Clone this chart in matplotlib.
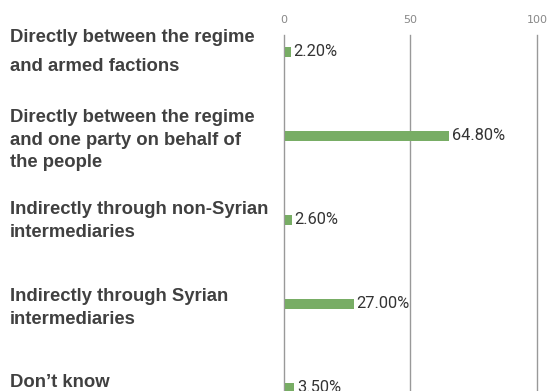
import matplotlib.pyplot as plt
from matplotlib.transforms import blended_transform_factory

categories = [
    "Directly between the regime\nand armed factions",
    "Directly between the regime\nand one party on behalf of\nthe people",
    "Indirectly through non-Syrian\nintermediaries",
    "Indirectly through Syrian\nintermediaries",
    "Don\u2019t know",
]
values = [2.2, 64.8, 2.6, 27.0, 3.5]
ticks = [0, 50, 100]

fig = plt.figure(figsize=(5.51, 3.91), dpi=100)
ax = fig.add_axes([0.5154, 0.0, 0.4592, 0.9105])

pos = list(range(len(values)))
ax.barh(pos, values, height=0.12, left=0.5, color="#78ad65", zorder=3)

for y, v in zip(pos, values):
    ax.text(v + 1.6, y, f"{v:.2f}%", va="center", ha="left",
            fontsize=11.8, color="#333333", family="Roboto", clip_on=False)

# category labels sit at the left edge of the figure
trans = blended_transform_factory(fig.transFigure, ax.transData)
nudge = [0.0, 0.05, 0.01, 0.05, -0.07]
for i, (y, lab) in enumerate(zip(pos, categories)):
    ax.text(0.018, y + nudge[i], lab, transform=trans, ha="left", va="center",
            fontsize=13.3, fontweight="bold", color="#404040",
            family="Liberation Sans", linespacing=1.95 if i == 0 else 1.42)

ax.set_xlim(0, 100)
ax.set_ylim(4.036, -0.202)
ax.set_yticks([])
ax.xaxis.tick_top()
ax.set_xticks(ticks)
ax.tick_params(axis="x", length=0, pad=7, labelsize=8, labelcolor="#888888")
for s in ax.spines.values():
    s.set_visible(False)
for t in ticks:
    ax.axvline(t, color="#999999", lw=1, zorder=1, clip_on=False)

fig.savefig("out.png", dpi=100)
